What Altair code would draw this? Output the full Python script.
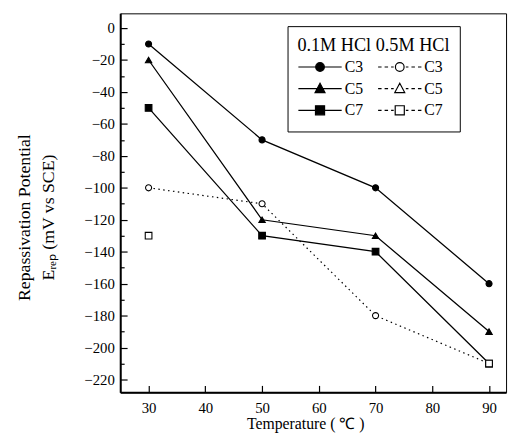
import altair as alt
import pandas as pd

# ---------------- data ----------------
temps = [30, 50, 70, 90]
c3_01 = [-10, -70, -100, -160]
c5_01 = [-20, -120, -130, -190]
c7_01 = [-50, -130, -140, -210]
c3_05 = [-100, -110, -180, -210]
c7_05_temps = [30, 90]
c7_05 = [-130, -210]

series_names = ["0.1M HCl C3", "0.1M HCl C5", "0.1M HCl C7",
                "0.5M HCl C3", "0.5M HCl C5", "0.5M HCl C7"]

y_major = list(range(0, -221, -20))
y_minor = list(range(-10, -221, -20))
x_major = [30, 40, 50, 60, 70, 80, 90]

legend_title = "\u00a00.1M HCl 0.5M HCl"
x_title = "Temperature ( ℃ )"
y_title = ["Repassivation Potential", "Eᵣₑₚ (mV vs SCE)"]

# ---------------- table ----------------
rows = []
def add(name, xs, ys):
    for t, v in zip(xs, ys):
        rows.append({"temp": t, "value": v, "series": name})

add("0.1M HCl C3", temps, c3_01)
add("0.1M HCl C5", temps, c5_01)
add("0.1M HCl C7", temps, c7_01)
add("0.5M HCl C3", temps, c3_05)
add("0.5M HCl C7", c7_05_temps, c7_05)
df = pd.DataFrame(rows)

shape_of = {"C3": "circle", "C5": "triangle-up", "C7": "square"}
size_of = {"C3": 38, "C5": 42, "C7": 46}
df["grade"] = df["series"].str[-2:]
df["conc"] = df["series"].str[:4]
df["shape"] = df["grade"].map(shape_of)
df["msize"] = df["grade"].map(size_of)
df["fillc"] = df["conc"].map({"0.1M": "black", "0.5M": "white"})

W, H = 392, 385
xs = alt.Scale(domain=[25, 93], nice=False, zero=False)
ys = alt.Scale(domain=[-228, 9.2], nice=False, zero=False)

FONT = "Liberation Serif"

base = alt.Chart(df)

# main axes (labels + titles)
x_main = alt.Axis(orient="bottom", values=x_major, ticks=False, domain=True,
                  domainWidth=2, domainColor="black", grid=False,
                  labelFont=FONT, labelFontSize=15, labelColor="black",
                  labelPadding=9, title=x_title, titleX=188, titleY=32,
                  titleBaseline="middle", titleFontSize=16, titleFont=FONT,
                  titleFontWeight="normal", titleColor="black")
y_main = alt.Axis(orient="left", values=y_major, ticks=False, domain=True,
                  domainWidth=2, domainColor="black", grid=False,
                  labelFont=FONT, labelFontSize=15, labelColor="black",
                  labelPadding=6, title=y_title, titleX=-97, titleY=207,
                  titleAngle=270, titleBaseline="middle", titleAlign="center",
                  titleLineHeight=24, titleFontSize=18, titleFont=FONT,
                  titleFontWeight="normal", titleColor="black")

lines_solid = base.transform_filter(alt.datum.conc == "0.1M").mark_line(
    color="black", strokeWidth=1.3).encode(
    x=alt.X("temp:Q", scale=xs, axis=x_main),
    y=alt.Y("value:Q", scale=ys, axis=y_main),
    detail="series:N")

lines_dot = base.transform_filter(alt.datum.series == "0.5M HCl C3").mark_line(
    color="black", strokeWidth=1.2, strokeDash=[1.5, 3.5]).encode(
    x=alt.X("temp:Q", scale=xs, axis=None),
    y=alt.Y("value:Q", scale=ys, axis=None),
    detail="series:N")

points = base.mark_point(filled=False, opacity=1, stroke="black", strokeWidth=1.1).encode(
    x=alt.X("temp:Q", scale=xs, axis=None),
    y=alt.Y("value:Q", scale=ys, axis=None),
    shape=alt.Shape("shape:N", scale=None),
    fill=alt.Fill("fillc:N", scale=None),
    size=alt.Size("msize:Q", scale=None))

# legend-only layer (draws no marks)
circ = "M0.2,0A0.2,0.2,0,1,1,-0.2,0A0.2,0.2,0,1,1,0.2,0Z"
tri = "M0,-0.25L0.23,0.18L-0.23,0.18Z"
sq = "M-0.21,-0.21H0.21V0.21H-0.21Z"
solid = "M-1,0H1"
dots = ("M-1,0H-0.84M-0.7,0H-0.54M-0.4,0H-0.28"
        "M0.28,0H0.4M0.54,0H0.7M0.84,0H1")
paths = [solid + circ, solid + tri, solid + sq, dots + circ, dots + tri, dots + sq]
fills = ["black", "black", "black", "white", "white", "white"]

leg = alt.Legend(title=legend_title, orient="none", legendX=170, legendY=13,
                 columns=2, columnPadding=14, rowPadding=0, clipHeight=22,
                 padding=10, fillColor="white", strokeColor="black",
                 labelFont=FONT, labelFontSize=16, labelColor="black",
                 labelOffset=2, labelExpr="slice(datum.label, -2)",
                 titleFont=FONT, titleFontSize=18.5, titleFontWeight="normal",
                 titleColor="black", titlePadding=2,
                 symbolSize=1936, symbolStrokeWidth=1.2,
                 symbolStrokeColor="black")

legend_layer = base.transform_filter("false").mark_point(
    filled=False, opacity=1, stroke="black", strokeWidth=1.2, size=1936).encode(
    x=alt.X("temp:Q", scale=xs, axis=None),
    y=alt.Y("value:Q", scale=ys, axis=None),
    shape=alt.Shape("series:N", scale=alt.Scale(domain=series_names, range=paths), legend=leg),
    fill=alt.Fill("series:N", scale=alt.Scale(domain=series_names, range=fills), legend=leg))

# inward tick layers
ticks_major = base.transform_filter("false").mark_point().encode(
    x=alt.X("temp:Q", scale=xs,
            axis=alt.Axis(orient="top", offset=-H, values=x_major, tickSize=7,
                          tickColor="black", tickWidth=1.2, labels=False,
                          domain=False, grid=False, title=None)),
    y=alt.Y("value:Q", scale=ys,
            axis=alt.Axis(orient="right", offset=-W, values=y_major, tickSize=7,
                          tickColor="black", tickWidth=1.2, labels=False,
                          domain=False, grid=False, title=None)))

ticks_minor = base.transform_filter("false").mark_point().encode(
    x=alt.X("temp:Q", scale=xs, axis=None),
    y=alt.Y("value:Q", scale=ys,
            axis=alt.Axis(orient="right", offset=-W, values=y_minor, tickSize=4,
                          tickColor="black", tickWidth=1.2, labels=False,
                          domain=False, grid=False, title=None)))

chart = alt.layer(lines_solid, lines_dot, points, legend_layer, ticks_major, ticks_minor).resolve_axis(
    x="independent", y="independent"
).properties(
    width=W, height=H,
    autosize=alt.AutoSizeParams(type="none"),
    padding={"left": 114, "top": 2, "right": 4, "bottom": 44},
).configure_view(stroke="black", strokeWidth=1).configure_axis(
    labelFont=FONT, labelFontSize=15, labelColor="black",
    titleFont=FONT, titleFontWeight="normal", titleColor="black",
)

chart.save("out.html", embed_options={"renderer": "svg", "actions": False})
